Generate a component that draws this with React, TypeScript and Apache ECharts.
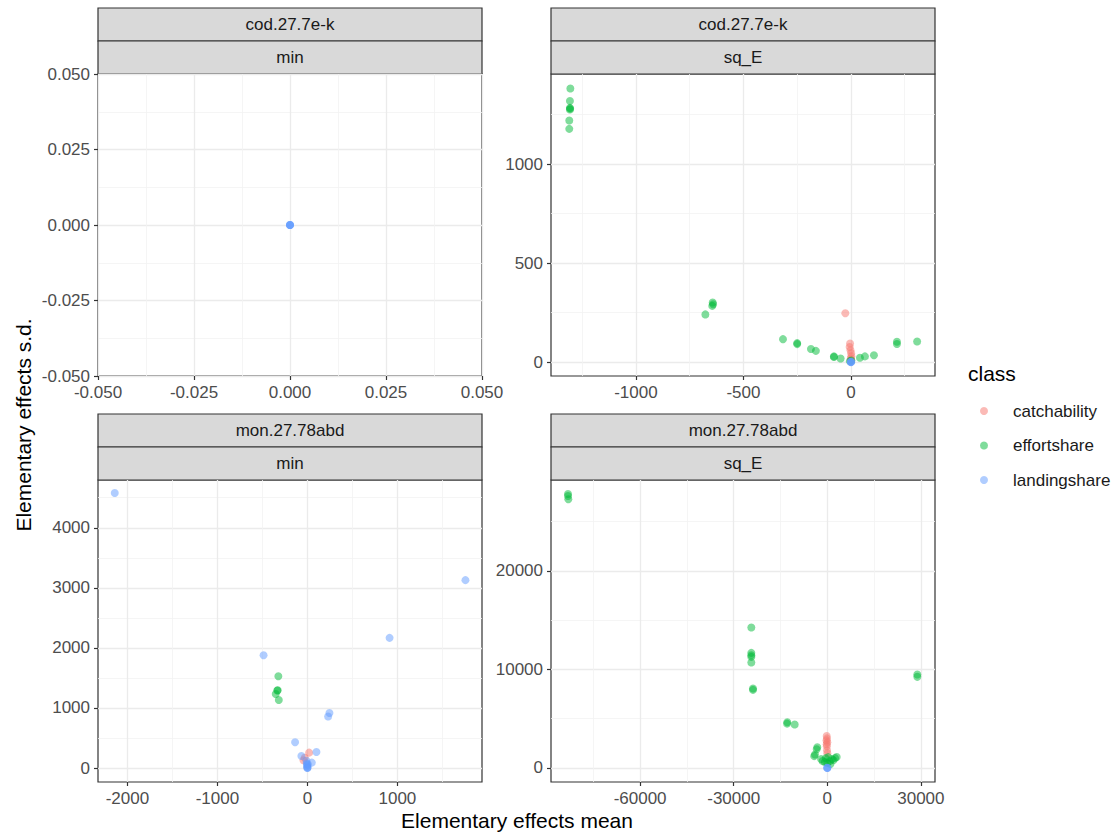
import React, { useEffect, useRef } from "react";
import * as echarts from "echarts";

const FONT = "Liberation Sans, Arial, sans-serif";

const classes = ["catchability", "effortshare", "landingshare"];
const classColors = ["#F8766D", "#00BA38", "#619CFF"];

const panelStock = ["cod.27.7e-k", "cod.27.7e-k", "mon.27.78abd", "mon.27.78abd"];
const panelScenario = ["min", "sq_E", "min", "sq_E"];

// cod.27.7e-k / min
const codMinCatch: number[][] = [];
const codMinEffort: number[][] = [];
const codMinLanding = [[0, 0], [0, 0], [0, 0], [0, 0]];

// cod.27.7e-k / sq_E
const codSqCatch = [
  [-26, 247], [-4, 94], [-6, 76], [-2, 60], [1, 45], [2, 30], [0, 20], [-1, 10], [0, 5],
];
const codSqEffort = [
  [-1305, 1382], [-1307, 1319], [-1307, 1284], [-1307, 1276], [-1306, 1280], [-1310, 1220], [-1310, 1178],
  [-677, 241], [-643, 301], [-645, 284], [-641, 292],
  [-316, 116], [-250, 96], [-250, 91], [-186, 66], [-163, 57], [-79, 29], [-79, 26], [-48, 18],
  [-5, 5], [2, 8], [42, 22], [65, 29], [107, 35], [214, 103], [214, 92], [308, 104],
];
const codSqLanding = [[0, 0], [0, 2], [1, 0], [-1, 1]];

// mon.27.78abd / min
const monMinCatch = [[19, 256], [-44, 128], [-30, 170]];
const monMinEffort = [[-323, 1528], [-330, 1295], [-335, 1290], [-352, 1233], [-318, 1133]];
const monMinLanding = [
  [-2141, 4578], [1756, 3128], [913, 2167], [-487, 1878], [245, 917], [230, 857], [-137, 428],
  [100, 267], [-67, 200], [49, 90], [-7, 80], [-5, 50], [-3, 30], [0, 10], [-2, 0], [2, 5],
  [-10, 120], [5, 60],
];

// mon.27.78abd / sq_E
const monSqCatch = [
  [-192, 3249], [-100, 3000], [-250, 2800], [0, 2600], [-200, 2400], [-150, 2200], [-100, 1800], [0, 1500],
];
const monSqEffort = [
  [-83109, 27787], [-83109, 27580], [-83000, 27250],
  [-24358, 14254], [-24358, 11675], [-24358, 11442], [-24358, 11269], [-24358, 10700],
  [-23814, 8061], [-23814, 7925], [-12820, 4640], [-12900, 4500], [-10449, 4406],
  [-3205, 2102], [-3400, 1900], [-3942, 1360], [-4200, 1200],
  [-1500, 700], [-800, 600], [0, 500], [800, 700], [1500, 900], [-500, 1000], [300, 1100],
  [2000, 800], [3013, 1117], [2500, 1000], [1000, 400], [-2000, 900],
  [28846, 9482], [28846, 9245],
];
const monSqLanding = [[0, 0], [50, 30], [-50, 10]];

const panelData = [
  [codMinCatch, codMinEffort, codMinLanding],
  [codSqCatch, codSqEffort, codSqLanding],
  [monMinCatch, monMinEffort, monMinLanding],
  [monSqCatch, monSqEffort, monSqLanding],
];

// tick labels
const xTicksCodMin = [-0.05, -0.025, 0, 0.025, 0.05];
const yTicksCodMin = [-0.05, -0.025, 0, 0.025, 0.05];
const xTicksCodSq = [-1000, -500, 0];
const yTicksCodSq = [0, 500, 1000];
const xTicksMonMin = [-2000, -1000, 0, 1000];
const yTicksMonMin = [0, 1000, 2000, 3000, 4000];
const xTicksMonSq = [-60000, -30000, 0, 30000];
const yTicksMonSq = [0, 10000, 20000];

const xRanges = [[-0.05, 0.05], [-1395, 391], [-2327, 1940], [-88558, 34519]];
const yRanges = [[-0.05, 0.05], [-70, 1455], [-233, 4795], [-1421, 29208]];
const xSplit = [4, 4, 4, 4];
const ySplit = [4, 3, 5, 3];
const xTicks = [xTicksCodMin, xTicksCodSq, xTicksMonMin, xTicksMonSq];
const yTicks = [yTicksCodMin, yTicksCodSq, yTicksMonMin, yTicksMonSq];

const grids = [
  { left: 98, top: 74, width: 384, height: 302 },
  { left: 551, top: 74, width: 384, height: 302 },
  { left: 98, top: 480, width: 384, height: 302 },
  { left: 551, top: 480, width: 384, height: 302 },
];

function fmt(i: number) {
  return (v: number) => (i === 0 ? v.toFixed(3) : String(Math.round(v)));
}

function makeAxis(i: number, isX: boolean) {
  const r = isX ? xRanges[i] : yRanges[i];
  const ticks = isX ? xTicks[i] : yTicks[i];
  const ax: any = {
    type: "value",
    gridIndex: i,
    position: isX ? "bottom" : "left",
    min: r[0],
    max: r[1],
    splitNumber: isX ? xSplit[i] : ySplit[i],
    scale: true,
    axisLine: { show: false, onZero: false },
    axisTick: {
      show: true,
      length: 4,
      lineStyle: { color: "#333333", width: 1.2 },
      customValues: ticks,
    },
    axisLabel: {
      show: true,
      color: "#4D4D4D",
      fontSize: 17,
      fontFamily: FONT,
      margin: 8,
      formatter: fmt(i),
      customValues: ticks,
      showMinLabel: true,
      showMaxLabel: true,
      hideOverlap: false,
    },
    splitLine: { show: true, lineStyle: { color: "#EBEBEB", width: 1.3 } },
    minorTick: { show: false, splitNumber: 2 },
    minorSplitLine: { show: true, lineStyle: { color: "#F3F3F3", width: 0.8 } },
  };
  if (i === 0) ax.interval = 0.025;
  return ax;
}

export default function App() {
  const ref = useRef<HTMLDivElement>(null);
  useEffect(() => {
    if (!ref.current) return;
    const chart = echarts.init(ref.current, undefined, { renderer: "svg" });

    const series: any[] = [];
    panelData.forEach((classesData, p) => {
      classesData.forEach((d, c) => {
        series.push({
          type: "scatter",
          name: classes[c],
          xAxisIndex: p,
          yAxisIndex: p,
          data: d,
          symbol: "circle",
          symbolSize: 8,
          itemStyle: { color: classColors[c], opacity: 0.5 },
          emphasis: { disabled: true },
        });
      });
    });

    const graphic: any[] = [];
    grids.forEach((g, i) => {
      const t1 = g.top - 66;
      const t2 = g.top - 33;
      graphic.push({
        type: "rect",
        shape: { x: g.left, y: t1, width: g.width, height: 33 },
        style: { fill: "#D9D9D9", stroke: "#333333", lineWidth: 1.2 },
      });
      graphic.push({
        type: "rect",
        shape: { x: g.left, y: t2, width: g.width, height: 33 },
        style: { fill: "#D9D9D9", stroke: "#333333", lineWidth: 1.2 },
      });
      graphic.push({
        type: "text",
        x: g.left + g.width / 2,
        y: t1 + 16.5,
        style: {
          text: panelStock[i],
          fill: "#1A1A1A",
          fontSize: 17,
          fontFamily: FONT,
          align: "center",
          verticalAlign: "middle",
        },
      });
      graphic.push({
        type: "text",
        x: g.left + g.width / 2,
        y: t2 + 16.5,
        style: {
          text: panelScenario[i],
          fill: "#1A1A1A",
          fontSize: 17,
          fontFamily: FONT,
          align: "center",
          verticalAlign: "middle",
        },
      });
    });
    graphic.push({
      type: "text",
      x: 517,
      y: 820,
      style: {
        text: "Elementary effects mean",
        fill: "#000000",
        fontSize: 21,
        fontFamily: FONT,
        align: "center",
        verticalAlign: "middle",
      },
    });
    graphic.push({
      type: "text",
      x: 23,
      y: 425,
      rotation: Math.PI / 2,
      style: {
        text: "Elementary effects s.d.",
        fill: "#000000",
        fontSize: 21,
        fontFamily: FONT,
        align: "center",
        verticalAlign: "middle",
      },
    });
    graphic.push({
      type: "text",
      x: 968,
      y: 373,
      style: {
        text: "class",
        fill: "#000000",
        fontSize: 21,
        fontFamily: FONT,
        align: "left",
        verticalAlign: "middle",
      },
    });

    chart.setOption({
      animation: false,
      backgroundColor: "#FFFFFF",
      grid: grids.map((g) => ({
        ...g,
        show: true,
        backgroundColor: "#FFFFFF",
        borderColor: "#333333",
        borderWidth: 1.2,
        containLabel: false,
      })),
      xAxis: grids.map((_, i) => makeAxis(i, true)),
      yAxis: grids.map((_, i) => makeAxis(i, false)),
      legend: {
        orient: "vertical",
        left: 975,
        top: 396,
        itemWidth: 48,
        itemHeight: 8,
        itemGap: 14.5,
        icon: "circle",
        selectedMode: false,
        data: classes.map((n, i) => ({
          name: n,
          itemStyle: { color: classColors[i], opacity: 0.5 },
        })),
        textStyle: { fontSize: 17, color: "#1A1A1A", fontFamily: FONT, lineHeight: 20 },
      },
      series,
      graphic,
    });
    return () => chart.dispose();
  }, []);
  return (
    <div
      ref={ref}
      style={{ position: "absolute", left: 0, top: 0, width: 1112, height: 834 }}
    />
  );
}
